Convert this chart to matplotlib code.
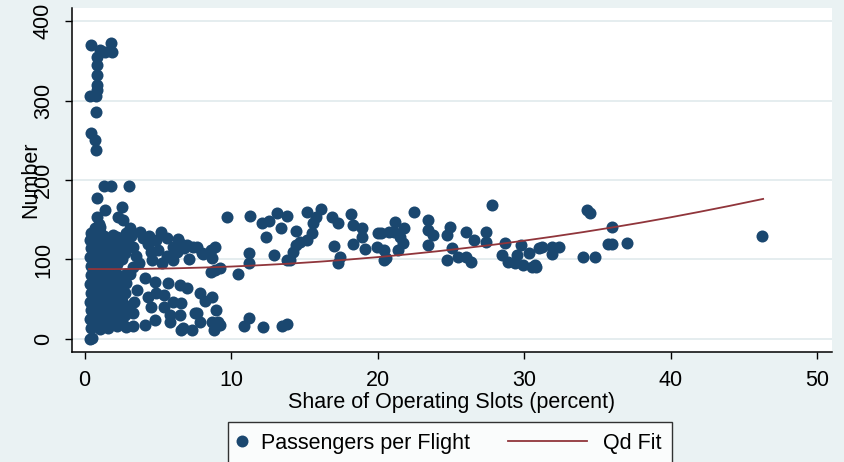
import matplotlib
matplotlib.use("Agg")
import matplotlib.pyplot as plt
from matplotlib.lines import Line2D
from matplotlib.legend_handler import HandlerLine2D

# share of operating slots (percent) vs passengers per flight
spike_x = [0.44, 1.80, 1.87, 1.40, 1.05, 0.85, 0.85, 0.85, 0.85, 0.85, 0.37, 0.78, 0.78, 0.44, 0.70, 0.78]
spike_y = [370, 372, 361, 361, 364, 355, 345, 332, 320, 313, 306, 306, 285, 259, 250, 238]

mid_x = [1.33, 1.80, 3.00, 0.85, 1.40, 2.55, 2.30, 2.60, 0.85, 1.05, 3.10]
mid_y = [192, 192, 192, 177, 162, 166, 154, 150, 154, 141, 140]

core_x = [0.42, 0.38, 0.45, 0.40, 0.43, 0.37, 0.41, 0.44, 0.39, 0.42, 0.40, 0.45,
          0.72, 0.68, 0.74, 0.70, 0.66, 0.73, 0.69, 0.71, 0.75, 0.67, 0.72, 0.70,
          1.02, 0.98, 1.04, 0.97, 1.01, 1.05, 0.99, 1.03, 0.96, 1.02, 1.00, 1.04, 0.98,
          1.32, 1.28, 1.34, 1.27, 1.31, 1.35, 1.29, 1.33, 1.26, 1.30, 1.34,
          1.62, 1.58, 1.64, 1.57, 1.61, 1.65, 1.59, 1.63, 1.56, 1.60, 1.64,
          1.92, 1.88, 1.94, 1.87, 1.91, 1.95, 1.89, 1.93, 1.86, 1.90, 1.94,
          2.22, 2.18, 2.24, 2.17, 2.21, 2.25, 2.19, 2.23, 2.16, 2.20,
          2.52, 2.48, 2.54, 2.47, 2.51, 2.55, 2.49, 2.53,
          2.82, 2.78, 2.84, 2.77, 2.81, 2.85, 2.79, 2.83, 2.80,
          0.37, 0.50]
core_y = [14, 25, 36, 47, 58, 69, 80, 92, 103, 114, 125, 133,
          19, 30, 42, 53, 64, 76, 87, 98, 109, 120, 130, 140,
          12, 24, 35, 46, 57, 68, 79, 90, 101, 112, 123, 134, 145,
          17, 28, 40, 51, 62, 74, 85, 96, 107, 118, 129,
          14, 26, 38, 49, 60, 71, 82, 93, 104, 115, 126,
          20, 31, 43, 55, 66, 78, 89, 100, 111, 122, 131,
          16, 28, 45, 57, 69, 80, 94, 105, 117, 128,
          22, 35, 48, 62, 75, 100, 112, 124,
          15, 30, 42, 58, 70, 82, 108, 120, 133,
          0, 1]

upper_x = [3.2, 3.3, 3.5, 3.7, 4.0, 4.3, 4.5, 4.6, 4.9, 5.2, 5.3, 5.6, 5.6, 6.0, 6.0,
           6.3, 6.6, 6.8, 7.1, 7.4, 7.7, 8.0, 8.1, 8.6, 8.9, 8.7, 8.6, 8.9, 9.25,
           3.3, 3.1, 3.8, 4.4, 5.0, 6.4, 7.0]
upper_y = [130, 116, 104, 96, 127, 120, 110, 99, 124, 134, 96, 127, 104, 116, 99,
           110, 120, 114, 101, 116, 116, 108, 107, 112, 116, 102, 84, 87, 89,
           90, 82, 134, 129, 112, 126, 118]

lower_x = [3.3, 3.3, 3.4, 3.6, 4.1, 4.1, 4.3, 4.5, 4.8, 4.9, 4.8, 5.4, 5.4, 5.7, 5.8,
           5.8, 6.0, 6.5, 6.5, 6.6, 6.6, 6.7, 7.0, 7.3, 7.5, 7.7, 7.9, 7.9, 8.2, 8.7,
           8.7, 8.8, 9.0, 9.1, 9.25, 2.2]
lower_y = [33, 16, 47, 62, 77, 18, 53, 40, 72, 58, 24, 55, 40, 70, 21,
           30, 47, 68, 30, 45, 11, 14, 64, 11, 33, 33, 58, 21, 48, 53,
           21, 11, 36, 21, 18, 20]

right_x = [9.7, 10.5, 11.3, 12.1, 12.6, 13.1, 13.8, 13.4, 12.4, 14.4, 15.2, 16.1,
           15.6, 15.8, 15.5, 15.2, 14.7, 14.4, 14.2, 14.0, 13.8, 12.9, 11.2, 11.2,
           16.9, 17.3, 17.0, 17.3, 17.4, 18.2, 18.3, 18.3, 18.9, 18.9, 19.1, 20.0,
           19.95, 20.4, 20.6, 20.8, 20.2, 20.4, 21.2, 21.1, 21.8, 21.7, 21.4, 21.5,
           22.5, 23.4, 23.4, 23.8, 23.4, 24.9, 24.7, 25.1, 24.7, 25.5, 26.0, 26.4,
           26.0, 26.6, 27.4, 27.4, 27.8, 28.7, 28.5, 28.9, 29.5, 29.8, 30.3, 29.9,
           30.5, 30.8, 31.0, 29.4, 30.7, 31.2, 31.9, 32.4, 31.9, 34.0, 34.8, 34.3,
           34.5, 36.0, 35.7, 36.0, 37.0, 46.25,
           11.2, 10.9, 12.2, 13.5, 13.8]
right_y = [153, 82, 155, 146, 148, 158, 155, 140, 128, 136, 160, 164,
           146, 154, 133, 125, 122, 118, 109, 99, 99, 106, 108, 95,
           154, 146, 117, 96, 103, 157, 144, 120, 139, 128, 113, 133,
           116, 112, 102, 135, 133, 99, 147, 135, 140, 121, 112, 128,
           160, 150, 137, 131, 118, 141, 131, 114, 99, 103, 103, 97,
           135, 125, 135, 122, 168, 121, 106, 97, 106, 118, 108, 93,
           91, 91, 114, 96, 93, 116, 116, 116, 107, 103, 103, 162,
           158, 141, 120, 120, 121, 130,
           27, 16, 15, 16, 19]

# quadratic fit
fit_x = [0.3, 2, 4, 6, 8, 10, 12, 14, 16, 18, 20, 22, 24, 26, 28, 30,
         32, 34, 36, 38, 40, 42, 44, 46.3]
fit_y = [88.0, 87.9, 88.2, 88.8, 89.8, 91.1, 92.8, 94.8, 97.2, 99.9, 103.0, 106.4,
         110.2, 114.4, 118.8, 123.7, 128.9, 134.4, 140.3, 146.5, 153.1, 160.1, 167.4, 176.2]

x_ticks = [0, 10, 20, 30, 40, 50]
y_ticks = [0, 100, 200, 300, 400]

navy = "#1A476F"
maroon = "#90353B"
bg = "#EAF2F3"
fs = 15.5

plt.rcParams["font.family"] = ["Liberation Sans", "DejaVu Sans"]

fig = plt.figure(figsize=(8.45, 4.62), dpi=100, facecolor=bg)
ax = fig.add_axes([72 / 845, 1 - 352 / 462, 760 / 845, 344 / 462])
ax.set_facecolor("white")

all_x = spike_x + mid_x + core_x + upper_x + lower_x + right_x
all_y = spike_y + mid_y + core_y + upper_y + lower_y + right_y
ax.scatter(all_x, all_y, s=75, color=navy, linewidths=0, zorder=3)
ax.plot(fit_x, fit_y, color=maroon, lw=1.3, zorder=4)

ax.set_xlim(-0.86, 51.0)
ax.set_ylim(-16.4, 416.4)
ax.set_xticks(x_ticks)
ax.set_yticks(y_ticks)
ax.grid(axis="y", color="#E3ECEE", lw=1.3, zorder=0)
ax.set_axisbelow(True)

for side in ["top", "right"]:
    ax.spines[side].set_visible(False)
for side in ["left", "bottom"]:
    ax.spines[side].set_color("black")
    ax.spines[side].set_linewidth(1.1)

ax.tick_params(axis="both", direction="out", length=5, width=1.0, labelsize=fs)
ax.tick_params(axis="x", pad=8)
ax.tick_params(axis="y", pad=8)
for lab in ax.get_yticklabels():
    lab.set_rotation(90)
    lab.set_va("center")

ax.set_xlabel("Share of Operating Slots (percent)", fontsize=fs, labelpad=1)
ax.set_ylabel("Number", fontsize=fs)
ax.yaxis.set_label_coords(-0.04, 0.5)

handles = [
    Line2D([], [], marker="o", ls="none", color=navy, markersize=8.6, markeredgewidth=0),
    Line2D([], [], color=maroon, lw=1.3),
]
leg = fig.legend(handles, ["Passengers per Flight", "Qd Fit"],
                 loc="upper left", bbox_to_anchor=(228 / 845, 1 - 422 / 462),
                 borderaxespad=0, ncol=2, fontsize=fs, frameon=True, fancybox=False,
                 handlelength=0.3, handletextpad=0.73, borderpad=0.5, columnspacing=5.15,
                 handler_map={handles[1]: HandlerLine2D(xpad=-3.38)})
leg.get_frame().set_edgecolor("black")
leg.get_frame().set_linewidth(1.0)
leg.get_frame().set_facecolor("white")

fig.savefig("out.png", dpi=100, facecolor=bg)
